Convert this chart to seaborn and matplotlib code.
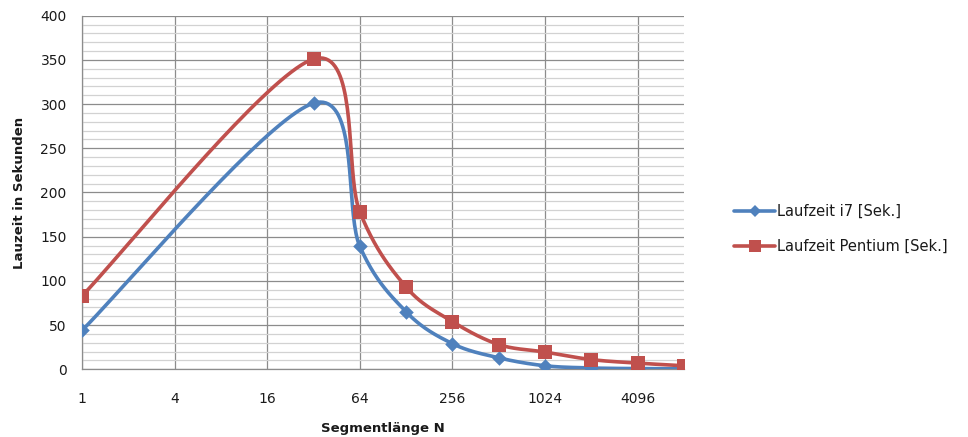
import numpy as np
import pandas as pd
import matplotlib
matplotlib.use("Agg")
import matplotlib.pyplot as plt
from matplotlib.lines import Line2D
from matplotlib.ticker import FixedLocator, MultipleLocator, NullFormatter
import seaborn as sns

# ---- data ----
segment_len = [1, 32, 64, 128, 256, 512, 1024, 2048, 4096, 8192]
laufzeit_i7 = [44, 301, 139, 65, 29, 13, 4, 1.5, 0.8, 0.6]
laufzeit_pentium = [83, 351, 178, 93, 54, 28, 19.5, 11, 7, 4]
x_ticks = [1, 4, 16, 64, 256, 1024, 4096]
series_names = ["Laufzeit i7 [Sek.]", "Laufzeit Pentium [Sek.]"]
colors = ["#4F81BD", "#C0504D"]
markers = ["D", "s"]

sns.set_theme(style="white")
plt.rcParams["font.family"] = ["DejaVu Sans"]


def smooth(xs, ys, n=40):
    """Excel-like smoothed line (Catmull-Rom Bezier) in log2(x) space."""
    t = np.log2(np.asarray(xs, float))
    y = np.asarray(ys, float)
    P = np.column_stack([t, y])
    P_ext = np.vstack([P[0], P, P[-1]])
    out = []
    for i in range(len(P) - 1):
        p0, p1, p2, p3 = P_ext[i], P_ext[i + 1], P_ext[i + 2], P_ext[i + 3]
        c1 = p1 + (p2 - p0) / 6.0
        c2 = p2 - (p3 - p1) / 6.0
        s = np.linspace(0, 1, n)[:, None]
        seg = ((1 - s) ** 3) * p1 + 3 * ((1 - s) ** 2) * s * c1 + 3 * (1 - s) * s ** 2 * c2 + s ** 3 * p2
        out.append(seg if i == 0 else seg[1:])
    curve = np.vstack(out)
    return 2.0 ** curve[:, 0], curve[:, 1]


fig = plt.figure(figsize=(9.68, 4.37), dpi=100)
ax = fig.add_axes([82 / 968, 1 - 369.3 / 437, (684 - 82) / 968, (369.3 - 15.7) / 437])

ax.set_xscale("log", base=2)

handles = []
for name, vals, col, mk in zip(series_names, [laufzeit_i7, laufzeit_pentium], colors, markers):
    sx, sy = smooth(segment_len, vals)
    df_line = pd.DataFrame({"N": sx, "t": sy})
    sns.lineplot(data=df_line, x="N", y="t", ax=ax, color=col, linewidth=2.6,
                 sort=False, estimator=None, zorder=3)
    df_pts = pd.DataFrame({"N": segment_len, "t": vals})
    ms = 55 if mk == "D" else 90
    sns.scatterplot(data=df_pts, x="N", y="t", ax=ax, color=col, marker=mk, s=ms,
                    edgecolor=col, linewidth=0, zorder=4)
    handles.append(Line2D([0], [0], color=col, linewidth=2.6, marker=mk,
                          markersize=6.5 if mk == "D" else 8, markeredgewidth=0))

ax.set_xlim(1, 8192)
ax.set_ylim(0, 400)

ax.xaxis.set_major_locator(FixedLocator(x_ticks))
ax.set_xticklabels([str(v) for v in x_ticks])
ax.xaxis.set_minor_locator(FixedLocator([]))
ax.xaxis.set_minor_formatter(NullFormatter())
ax.yaxis.set_major_locator(MultipleLocator(50))
ax.yaxis.set_minor_locator(MultipleLocator(10))

ax.grid(which="major", axis="both", color="#8C8C8C", linewidth=0.9, zorder=0)
ax.grid(which="minor", axis="y", color="#D2D2D2", linewidth=0.9, zorder=0)
ax.set_axisbelow(True)

for side in ["top", "right"]:
    ax.spines[side].set_visible(False)
for side in ["left", "bottom"]:
    ax.spines[side].set_color("#8C8C8C")
    ax.spines[side].set_linewidth(0.9)

ax.tick_params(axis="both", which="major", direction="out", length=5, width=0.9,
               color="#8C8C8C", labelsize=10, labelcolor="#1A1A1A")
ax.tick_params(axis="y", which="major", pad=6)
ax.tick_params(axis="x", which="major", pad=11)
ax.tick_params(which="minor", length=0)

ax.set_xlabel("Segmentlänge N", fontsize=9.5, fontweight="bold", color="#1A1A1A", labelpad=12)
ax.set_ylabel("Lauzeit in Sekunden", fontsize=9.5, fontweight="bold", color="#1A1A1A", labelpad=10)

leg = fig.legend(handles, series_names, loc="center left",
                 bbox_to_anchor=(721 / 968, 1 - 229 / 437), frameon=False,
                 fontsize=10.5, handlelength=2.8, handletextpad=0.15, labelspacing=1.35)
for txt in leg.get_texts():
    txt.set_color("#1A1A1A")

fig.savefig("out.png", dpi=100)
